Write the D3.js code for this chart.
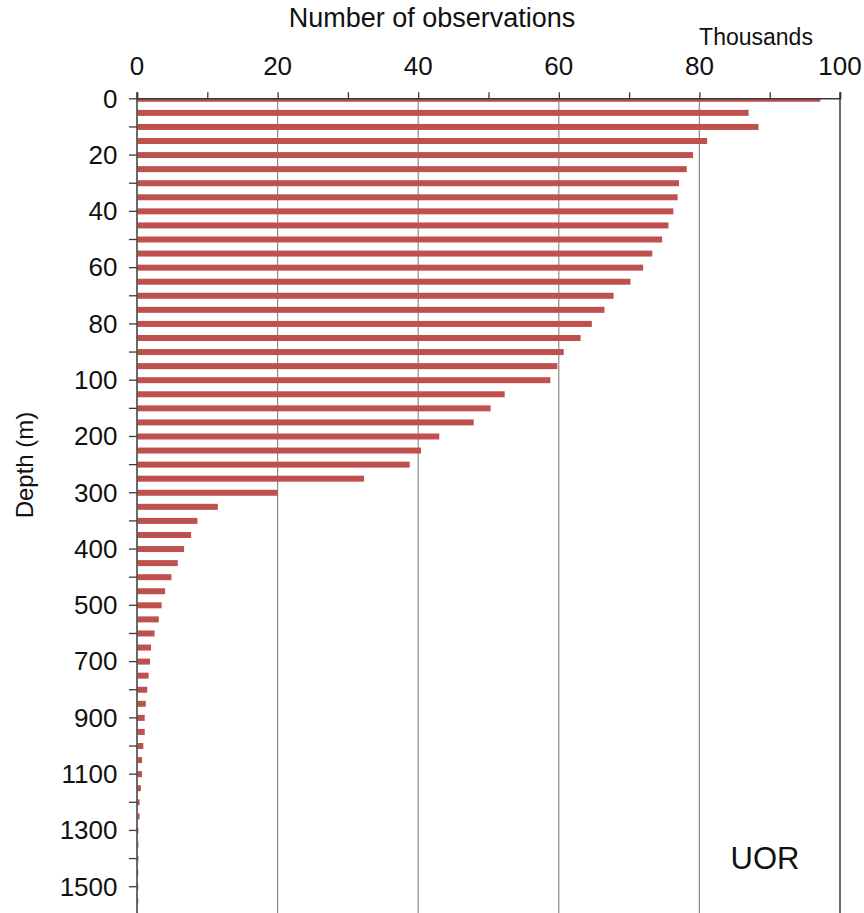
<!DOCTYPE html>
<html>
<head>
<meta charset="utf-8">
<script src="https://cdn.jsdelivr.net/npm/d3@7"></script>
<style>
  html, body { margin: 0; padding: 0; background: #fff; }
  svg { display: block; font-family: "Liberation Sans", Arial, sans-serif; }
</style>
</head>
<body>
<svg id="chart" width="864" height="913"></svg>
<script>
// ---- data (thousands of observations per standard depth level) ----
const depths = [0,5,10,15,20,25,30,35,40,45,50,55,60,65,70,75,80,85,90,95,100,
  125,150,175,200,225,250,275,300,325,350,375,400,425,450,475,500,
  550,600,650,700,750,800,850,900,950,1000,1050,1100,1150,1200,1250,1300,1350,1400,1450,1500,1550,1600];
const counts = [97.2,87.0,88.4,81.1,79.1,78.2,77.1,76.9,76.3,75.6,74.7,73.3,72.0,70.2,67.8,66.5,64.7,63.1,60.7,59.8,58.8,
  52.3,50.3,47.9,43.0,40.4,38.8,32.3,20.0,11.5,8.6,7.7,6.7,5.8,4.9,4.0,3.5,
  3.1,2.5,2.0,1.85,1.65,1.45,1.25,1.1,1.1,0.9,0.72,0.72,0.55,0.36,0.36,0.2,0.2,0.2,0.18,0.18,0.18,0.15];
const xTicks = [0,20,40,60,80,100];
const xMinorTicks = [0,10,20,30,40,50,60,70,80,90,100];
const depthLabels = [0,20,40,60,80,100,200,300,400,500,700,900,1100,1300,1500];
const depthTicks = depths.filter((d,i) => i % 2 === 0);
const titleText = "Number of observations";
const unitText = "Thousands";
const yTitle = "Depth (m)";
const tag = "UOR";

(function () {
const svg = d3.select("#chart");
const pLeft = 137, pRight = 840, pTop = 98.3, step = 14.07;
const pBottom = pTop + step * (depths.length - 1);

const x = d3.scaleLinear().domain([0, 100]).range([pLeft, pRight]);
const y = d3.scalePoint().domain(depths).range([pTop, pBottom]);

svg.append("defs").append("clipPath").attr("id", "plot")
  .append("rect").attr("x", pLeft).attr("y", pTop).attr("width", pRight - pLeft).attr("height", 1000);

// gridlines
svg.append("g").selectAll("line").data(xTicks.filter(d => d > 0 && d < 100)).join("line")
  .attr("x1", d => x(d)).attr("x2", d => x(d))
  .attr("y1", pTop).attr("y2", 913)
  .attr("stroke", "#8c8c8c").attr("stroke-width", 1.2);

// bars
const barH = 6;
svg.append("g").attr("clip-path", "url(#plot)")
  .selectAll("rect").data(depths.map((d, i) => ({d, v: counts[i]}))).join("rect")
  .attr("x", x(0) + 0.5)
  .attr("y", d => y(d.d) - barH / 2 + 0.5)
  .attr("width", d => Math.max(0, x(d.v) - x(0) - 0.5))
  .attr("height", barH)
  .attr("fill", "#C0504D");

// right border
svg.append("line").attr("x1", pRight).attr("x2", pRight).attr("y1", pTop - 6).attr("y2", 913)
  .attr("stroke", "#3a3a3a").attr("stroke-width", 1.5);

// top axis
const topAxis = svg.append("g").attr("transform", `translate(0,${pTop})`)
  .call(d3.axisTop(x).tickValues(xMinorTicks).tickSize(6).tickFormat(""));
topAxis.select(".domain").attr("stroke", "#3a3a3a").attr("stroke-width", 1.5);
topAxis.selectAll(".tick line").attr("stroke", "#3a3a3a").attr("stroke-width", 1.3);

svg.append("g").selectAll("text").data(xTicks).join("text")
  .attr("x", d => x(d)).attr("y", 75)
  .attr("text-anchor", "middle")
  .attr("font-size", 26).attr("fill", "#111")
  .text(d => d);

// left axis
const leftAxis = svg.append("g").attr("transform", `translate(${pLeft},0)`)
  .call(d3.axisLeft(y).tickValues(depthTicks).tickSize(8).tickFormat(""));
leftAxis.select(".domain").remove();
leftAxis.selectAll(".tick line").attr("stroke", "#3a3a3a").attr("stroke-width", 1.3);
svg.append("line").attr("x1", pLeft).attr("x2", pLeft).attr("y1", pTop - 6).attr("y2", 913)
  .attr("stroke", "#3a3a3a").attr("stroke-width", 1.5);

svg.append("g").selectAll("text").data(depthLabels).join("text")
  .attr("x", 117.5).attr("y", d => y(d) + 9.3)
  .attr("text-anchor", "end")
  .attr("font-size", 26).attr("fill", "#111")
  .text(d => d);

// titles
svg.append("text").attr("x", 432).attr("y", 27).attr("text-anchor", "middle")
  .attr("font-size", 27).attr("fill", "#111").text(titleText);
svg.append("text").attr("x", 756).attr("y", 45).attr("text-anchor", "middle")
  .attr("font-size", 23).attr("fill", "#111").text(unitText);
svg.append("text").attr("transform", "translate(33,465) rotate(-90)")
  .attr("text-anchor", "middle").attr("font-size", 24).attr("fill", "#111").text(yTitle);
svg.append("text").attr("x", 765).attr("y", 869).attr("text-anchor", "middle")
  .attr("font-size", 31).attr("fill", "#111").text(tag);
})();
</script>
</body>
</html>
